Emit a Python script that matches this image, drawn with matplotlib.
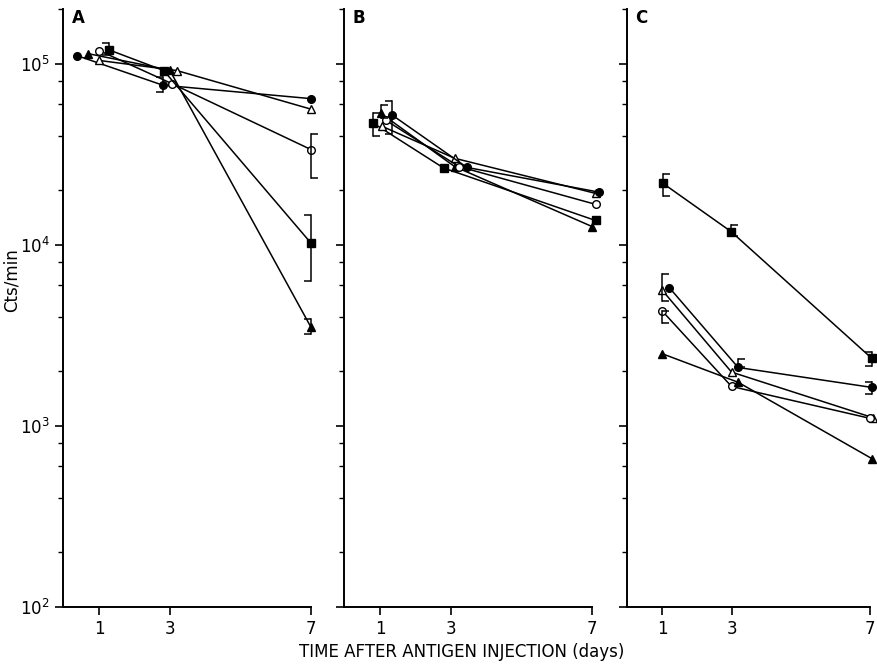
import numpy as np
from matplotlib import pyplot as plt
from matplotlib.path import Path
from matplotlib.ticker import LogLocator, NullFormatter, FixedLocator

# days after antigen injection
days = [1, 3, 7]

# panel A (Cts/min)
a_filled_circle = [1.107e5, 7.6e4, 6.4e4]
a_filled_tri = [1.135e5, 9.2e4, 3.5e3]
a_open_circle = [1.18e5, 7.75e4, 3.35e4]
a_open_tri = [1.04e5, 9.15e4, 5.6e4]
a_filled_square = [1.19e5, 9.15e4, 1.02e4]

# panel B
b_filled_square = [4.7e4, 2.65e4, 1.36e4]
b_filled_tri = [5.3e4, 2.7e4, 1.26e4]
b_open_tri = [4.5e4, 3.0e4, 1.92e4]
b_open_circle = [4.85e4, 2.7e4, 1.67e4]
b_filled_circle = [5.2e4, 2.67e4, 1.95e4]

# panel C
c_filled_square = [2.18e4, 1.18e4, 2.36e3]
c_open_tri = [5.6e3, 1.98e3, 1.11e3]
c_filled_circle = [5.8e3, 2.1e3, 1.63e3]
c_open_circle = [4.3e3, 1.65e3, 1.1e3]
c_filled_tri = [2.5e3, 1.74e3, 660]

# error ranges: (series index, day index, low, high)
a_errors = [(4, 0, 1.12e5, 1.3e5), (0, 1, 7.0e4, 8.4e4), (2, 2, 2.32e4, 4.07e4),
            (4, 2, 6.3e3, 1.45e4), (1, 2, 3.2e3, 3.9e3)]
b_errors = [(0, 0, 4.0e4, 5.3e4), (1, 0, 5.0e4, 5.9e4), (4, 0, 4.1e4, 6.25e4)]
c_errors = [(0, 0, 1.85e4, 2.47e4), (0, 1, 1.11e4, 1.28e4), (1, 0, 4.9e3, 6.9e3),
            (3, 0, 3.7e3, 4.3e3), (2, 1, 2.1e3, 2.35e3), (0, 2, 2.15e3, 2.55e3),
            (2, 2, 1.5e3, 1.75e3)]

FILLED_O = dict(marker='o', mfc='k')
OPEN_O = dict(marker='o', mfc='white')
FILLED_S = dict(marker='s', mfc='k')
OPEN_T = dict(marker='^', mfc='white')
FILLED_T = dict(marker='^', mfc='k')

# (values, style, x jitter per day so overlapping symbols stay visible)
panels = {
    'A': [(a_filled_circle, FILLED_O, [-0.63, -0.2, 0]),
          (a_filled_tri, FILLED_T, [-0.32, 0.0, 0]),
          (a_open_circle, OPEN_O, [0.0, 0.06, 0]),
          (a_open_tri, OPEN_T, [0.0, 0.2, 0]),
          (a_filled_square, FILLED_S, [0.28, -0.17, 0])],
    'B': [(b_filled_square, FILLED_S, [-0.2, -0.2, 0.1]),
          (b_filled_tri, FILLED_T, [0.03, 0.11, 0.0]),
          (b_open_tri, OPEN_T, [0.06, 0.11, 0.1]),
          (b_open_circle, OPEN_O, [0.17, 0.23, 0.1]),
          (b_filled_circle, FILLED_O, [0.34, 0.46, 0.2])],
    'C': [(c_filled_square, FILLED_S, [0.02, -0.01, 0.05]),
          (c_open_tri, OPEN_T, [0.0, 0.0, 0.08]),
          (c_filled_circle, FILLED_O, [0.2, 0.19, 0.05]),
          (c_open_circle, OPEN_O, [0.0, 0.0, 0.0]),
          (c_filled_tri, FILLED_T, [0.0, 0.19, 0.05])],
}
errors = {'A': a_errors, 'B': b_errors, 'C': c_errors}
# side of the bracket serifs (+1 right, -1 left)
err_sides = {'A': [-1, -1, 1, -1, -1],
             'B': [1, 1, -1],
             'C': [1, 1, 1, 1, 1, -1, -1]}

W, H = 878, 666
fig = plt.figure(figsize=(W / 100, H / 100), dpi=100)
lefts = [63, 344, 627]
widths = [248, 248, 243]
top, bottom = 9, 607


def bracket(ax, x, lo, hi, side):
    ax.plot([x, x], [lo, hi], color='k', lw=1.1, clip_on=False, zorder=4)
    cap = Path([(0, 0), (side, 0)])
    ax.plot([x, x], [lo, hi], ls='none', marker=cap, ms=10, mew=1.1,
            color='k', clip_on=False, zorder=4)


for i, name in enumerate(['A', 'B', 'C']):
    ax = fig.add_axes([lefts[i] / W, (H - bottom) / H, widths[i] / W, (bottom - top) / H])
    series = panels[name]
    for vals, style, jit in series:
        x = np.array(days) + np.array(jit)
        ax.plot(x, vals, color='k', lw=1.1, ms=5.5, mec='k', mew=1.0,
                clip_on=False, zorder=3, **style)
    for k, (s_idx, day_i, lo, hi) in enumerate(errors[name]):
        jit = series[s_idx][2]
        bracket(ax, days[day_i] + jit[day_i], lo, hi, err_sides[name][k])

    ax.set_yscale('log')
    ax.set_ylim(100, 2e5)
    ax.set_xlim(-0.02, 7)
    ax.yaxis.set_major_locator(LogLocator(base=10, numticks=10))
    ax.yaxis.set_minor_locator(LogLocator(base=10, subs=[2, 4, 6, 8], numticks=10))
    ax.yaxis.set_minor_formatter(NullFormatter())
    ax.xaxis.set_major_locator(FixedLocator(days))
    ax.spines['top'].set_visible(False)
    ax.spines['right'].set_visible(False)
    ax.spines['left'].set_linewidth(1.4)
    ax.spines['bottom'].set_linewidth(1.4)
    ax.tick_params(which='major', direction='out', length=6, width=1.2, labelsize=12)
    ax.tick_params(which='minor', direction='out', length=3.5, width=1.0)
    if i > 0:
        ax.tick_params(labelleft=False)
    ax.text(0.06, 0.985, name, transform=ax.transAxes, fontsize=12,
            fontweight='bold', ha='center', va='center')

fig.text(12 / W, 1 - 280 / H, 'Cts/min', rotation=90, fontsize=12,
         ha='center', va='center')
fig.text(462 / W, 1 - 652 / H, 'TIME AFTER ANTIGEN INJECTION (days)',
         fontsize=12, ha='center', va='center')

fig.savefig('out.png', dpi=100)
